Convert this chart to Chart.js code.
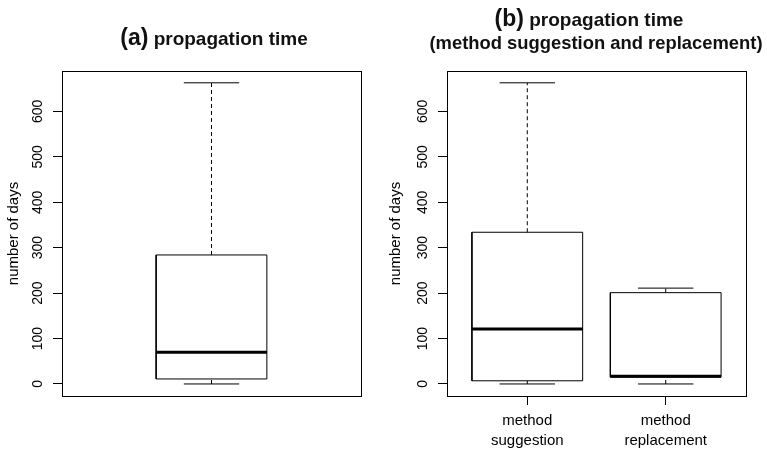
<!DOCTYPE html>
<html>
<head>
<meta charset="utf-8">
<script src="https://cdn.jsdelivr.net/npm/chart.js@4.4.1/dist/chart.umd.min.js"></script>
<style>
  body { margin: 0; background: #fff; width: 767px; height: 449px; position: relative; overflow: hidden; font-family: "Liberation Sans", Arial, sans-serif; }
  .painel { position: absolute; top: 0; height: 449px; }
  #painelA { left: 0; width: 384px; }
  #painelB { left: 384px; width: 383px; }
  .titulo { position: absolute; transform: translateX(-50%); font-weight: bold; color: #111; white-space: nowrap; line-height: 24px; font-size: 19px; }
  .titulo .letra { font-size: 23px; }
</style>
</head>
<body>
<div class="painel" id="painelA">
  <canvas id="boxA" width="384" height="449"></canvas>
  <div class="titulo" style="left:214px; top:25px;"><span class="letra">(a)</span> propagation time</div>
</div>
<div class="painel" id="painelB">
  <canvas id="boxB" width="383" height="449"></canvas>
  <div class="titulo" style="left:205px; top:6px;"><span class="letra">(b)</span> propagation time</div>
  <div class="titulo" style="left:212px; top:31px; font-size:18.4px;">(method suggestion and replacement)</div>
</div>

<script>
// valores (número de dias)
const gruposA = [''];
const minA = [0];
const q1A = [11];
const medianaA = [70];
const q3A = [284];
const maxA = [663];

const gruposB = ['method suggestion', 'method replacement'];
const minB = [0, 0];
const q1B = [7, 15];
const medianaB = [121, 17];
const q3B = [334, 201];
const maxB = [663, 211];

const ticksY = [0, 100, 200, 300, 400, 500, 600];

const fonte = '"Liberation Sans", Arial, sans-serif';

// um segmento (ou polígono) desenhado como dataset de linha
function linha(pontos, largura, tracejado) {
  return {
    data: pontos,
    showLine: true,
    borderColor: '#000',
    borderWidth: largura,
    borderDash: tracejado || [],
    borderCapStyle: 'butt',
    borderJoinStyle: 'miter',
    pointRadius: 0,
    fill: false,
    tension: 0
  };
}

// monta caixa, mediana, bigodes e barras de cada grupo
function montaCaixas(mins, q1s, meds, q3s, maxs, meiaCaixa) {
  const ds = [];
  for (let i = 0; i < meds.length; i++) {
    const c = i + 1;
    const e = c - meiaCaixa, d = c + meiaCaixa;
    const ce = c - meiaCaixa / 2, cd = c + meiaCaixa / 2;
    ds.push(linha([{ x: c, y: q3s[i] }, { x: c, y: maxs[i] }], 1, [4, 3]));
    ds.push(linha([{ x: c, y: mins[i] }, { x: c, y: q1s[i] }], 1, [4, 3]));
    ds.push(linha([{ x: ce, y: maxs[i] }, { x: cd, y: maxs[i] }], 1));
    ds.push(linha([{ x: ce, y: mins[i] }, { x: cd, y: mins[i] }], 1));
    ds.push(linha([
      { x: e, y: q1s[i] }, { x: d, y: q1s[i] }, { x: d, y: q3s[i] },
      { x: e, y: q3s[i] }, { x: e, y: q1s[i] }
    ], 1));
    ds.push(linha([{ x: e, y: meds[i] }, { x: d, y: meds[i] }], 3));
  }
  return ds;
}

// contorno da área do gráfico (box() do R)
const moldura = {
  id: 'moldura',
  afterDraw(chart) {
    const { ctx, chartArea: a } = chart;
    ctx.save();
    ctx.strokeStyle = '#000';
    ctx.lineWidth = 1;
    ctx.strokeRect(Math.round(a.left) + 0.5, Math.round(a.top) + 0.5,
      Math.round(a.right - a.left), Math.round(a.bottom - a.top));
    ctx.restore();
  }
};

function grafico(idCanvas, grupos, datasets, xMin, xMax, cfg) {
  const temRotulos = grupos.some(g => g !== '');
  return new Chart(document.getElementById(idCanvas), {
    type: 'scatter',
    data: { datasets: datasets },
    options: {
      responsive: false,
      animation: false,
      events: [],
      layout: { padding: { top: 71, right: cfg.direita, left: 0, bottom: 0 } },
      plugins: {
        legend: { display: false },
        tooltip: { enabled: false },
        title: { display: false }
      },
      scales: {
        x: {
          type: 'linear',
          display: temRotulos,
          min: xMin,
          max: xMax,
          afterBuildTicks: (s) => { s.ticks = grupos.map((g, i) => ({ value: i + 1 })); },
          afterFit: (s) => { s.height = 53; },
          grid: { drawOnChartArea: false, tickLength: 9, color: '#000' },
          border: { display: false },
          ticks: {
            autoSkip: false,
            minRotation: 0,
            maxRotation: 0,
            padding: 6,
            color: '#000',
            font: { family: fonte, size: 15, lineHeight: 1.33 },
            callback: (v) => grupos[Math.round(v) - 1].split(' ')
          }
        },
        y: {
          type: 'linear',
          min: -26.5,
          max: 689,
          afterBuildTicks: (s) => { s.ticks = ticksY.map(v => ({ value: v })); },
          afterFit: (s) => { s.width = cfg.largY; },
          grid: { drawOnChartArea: false, tickLength: 9, color: '#000' },
          border: { display: false },
          ticks: {
            minRotation: 90,
            maxRotation: 90,
            crossAlign: 'center',
            padding: 3,
            color: '#000',
            font: { family: fonte, size: 14 }
          },
          title: {
            display: true,
            text: 'number of days',
            color: '#000',
            font: { family: fonte, size: 15 },
            padding: { top: cfg.padTitulo, bottom: 0 }
          }
        }
      }
    },
    plugins: [moldura]
  });
}

grafico('boxA', gruposA, montaCaixas(minA, q1A, medianaA, q3A, maxA, 0.2), 0.46, 1.54,
  { direita: 23, largY: 62, padTitulo: 5 });
grafico('boxB', gruposB, montaCaixas(minB, q1B, medianaB, q3B, maxB, 0.4), 0.42, 2.58,
  { direita: 21, largY: 63, padTitulo: 3 });
</script>
</body>
</html>
